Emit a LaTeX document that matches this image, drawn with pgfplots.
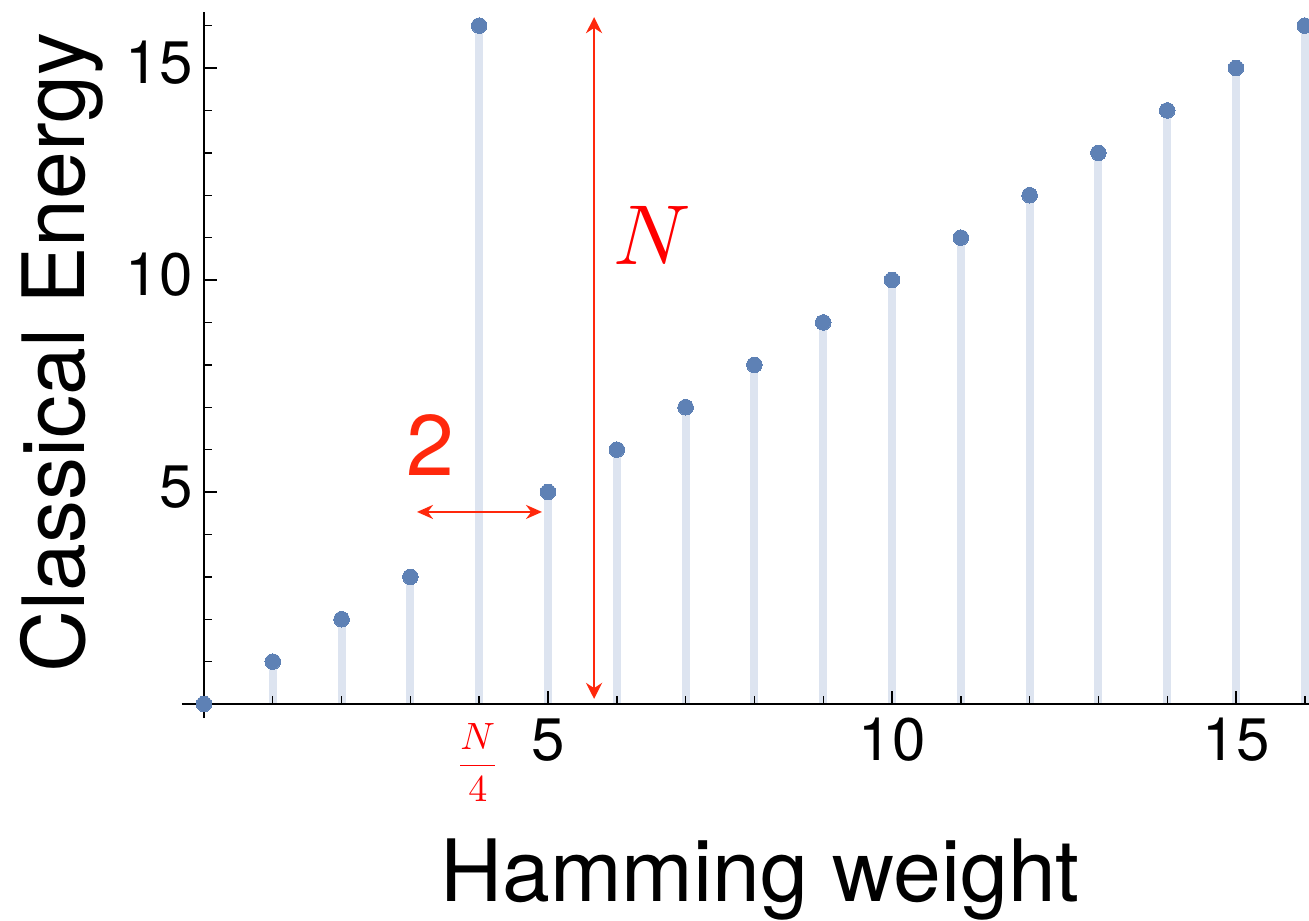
\documentclass[border=0pt]{standalone}
\usepackage[no-math]{fontspec}
\setmainfont{TeX Gyre Heros}
\usepackage{graphicx}
\usepackage{pgfplots}
\pgfplotsset{compat=1.18}
\usepackage{pgfplotstable}
\usetikzlibrary{arrows.meta}
\definecolor{stem}{RGB}{221,228,240}
\definecolor{ptcol}{RGB}{94,129,181}
\definecolor{annot}{RGB}{255,40,12}

\pgfplotstableread{
x y
0 0
1 1
2 2
3 3
4 16
5 5
6 6
7 7
8 8
9 9
10 10
11 11
12 12
13 13
14 14
15 15
16 16
}\energy

\begin{document}
\begin{tikzpicture}
\begin{axis}[
  x=34.4pt, y=21.2pt,
  xmin=-0.32, xmax=16.06, ymin=-0.33, ymax=16.32,
  axis lines=middle, axis on top, clip=false,
  every inner x axis line/.append style={-},
  every inner y axis line/.append style={-},
  axis line style={line width=1pt, black, -},
  xtick={5,10,15}, ytick={5,10,15},
  minor xtick={1,...,16}, minor ytick={1,...,16},
  tick align=inside,
  major tick length=6.5pt, minor tick length=4pt,
  every tick/.style={black, line width=0.7pt},
  /pgf/number format/assume math mode=true,
  tick label style={font=\fontsize{30}{36}\selectfont, inner sep=0pt},
  xticklabel style={anchor=north, yshift=-7pt},
  yticklabel style={anchor=east, xshift=-5.5pt, yshift=2.5pt},
  xlabel={Hamming weight}, ylabel={Classical Energy},
  every axis x label/.style={at={(axis description cs:0.513,-0.2592)}, anchor=base, font=\fontsize{43}{50}\selectfont, inner sep=0pt},
  every axis y label/.style={at={(axis description cs:-0.0861,0.518)}, rotate=90, anchor=base, font=\fontsize{43}{50}\selectfont, inner sep=0pt},
]
\addplot[ycomb, draw=stem, line width=4pt] table[x=x,y=y] {\energy};
\addplot[only marks, mark=*, mark size=3.9pt, mark options={fill=ptcol, draw=ptcol, line width=0pt}] table[x=x,y=y] {\energy};

\draw[annot, line width=1.2pt, {Stealth[length=8pt,width=8pt]}-{Stealth[length=8pt,width=8pt]}] (axis cs:5.67,0.12) -- (axis cs:5.67,16.2);
\draw[annot, line width=1.2pt, {Stealth[length=8pt,width=7pt]}-{Stealth[length=8pt,width=7pt]}] (axis cs:3.096,4.53) -- (axis cs:4.913,4.53);
\node[annot, font=\fontsize{43}{50}\selectfont, inner sep=0pt] at (axis cs:3.285,6.11) {2};
\node[red, inner sep=0pt] at (axis cs:6.51,11.04) {\scalebox{4.25}{$N$}};
\node[red, anchor=north, inner sep=0pt] at (axis cs:3.98,-0.45) {\scalebox{1.9}{$\displaystyle\frac{N}{4}$}};

\coordinate (bbsw) at (axis cs:-2.965,-5.094);
\coordinate (bbne) at (axis cs:16.061,16.604);
\end{axis}
\pgfresetboundingbox
\useasboundingbox (bbsw) rectangle (bbne);
\end{tikzpicture}
\end{document}
